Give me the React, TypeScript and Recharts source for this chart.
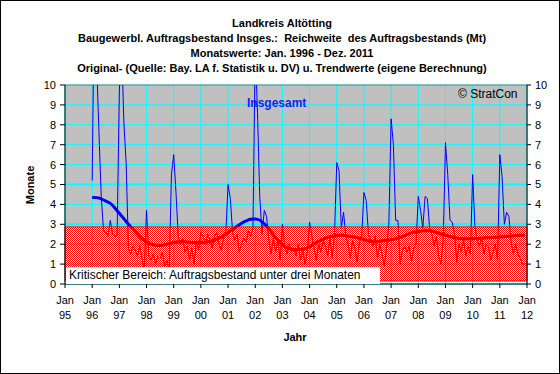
import React from 'react';
import { LineChart, Line, XAxis, YAxis, CartesianGrid, ReferenceArea, ReferenceLine } from 'recharts';

// Monthly values Jan 1996 - Dec 2011 (Reichweite des Auftragsbestands, Monate)
const originalValues: number[] = [
  // 1996
  5.2, 15, 11, 7.6, 4.4, 2.7, 2.6, 2.4, 3.2, 2.5, 2.4, 2.4,
  // 1997
  9.7, 12, 8.1, 6.1, 1.8, 1.5, 1.9, 1.7, 1.4, 1.9, 1.3, 0.7,
  // 1998
  3.7, 1.4, 1.2, 1.5, 1.0, 1.4, 1.3, 1.6, 0.9, 1.2, 0.6, 5.5,
  // 1999
  6.5, 4.6, 2.4, 2.0, 2.3, 1.6, 1.9, 1.2, 1.8, 1.0, 2.2, 1.7,
  // 2000
  2.6, 2.4, 2.0, 2.5, 2.2, 1.8, 2.4, 2.6, 2.0, 1.7, 2.3, 2.5,
  // 2001
  5.0, 4.3, 2.6, 2.2, 2.5, 1.6, 2.0, 2.3, 2.1, 2.7, 2.4, 2.8,
  // 2002
  12, 8.6, 4.4, 2.5, 3.7, 3.4, 2.2, 1.5, 2.3, 1.6, 2.2, 1.2,
  // 2003
  3.0, 1.9, 1.5, 2.0, 1.6, 1.8, 1.4, 2.0, 1.2, 1.7, 1.0, 1.6,
  // 2004
  3.1, 2.4, 1.8, 1.2, 2.0, 1.6, 2.2, 1.9, 1.4, 2.3, 1.3, 2.5,
  // 2005
  6.1, 5.7, 2.8, 3.6, 2.4, 2.0, 1.3, 2.2, 1.8, 1.1, 2.1, 2.4,
  // 2006
  4.6, 4.2, 2.5, 2.2, 1.9, 2.4, 1.3, 2.0, 1.5, 0.9, 1.8, 3.0,
  // 2007
  8.3, 7.0, 3.2, 3.2, 1.0, 1.7, 1.9, 1.6, 1.9, 1.1, 1.8, 2.0,
  // 2008
  4.4, 3.7, 2.8, 4.4, 4.3, 2.8, 2.5, 1.9, 2.4, 1.4, 1.0, 2.2,
  // 2009
  7.1, 5.5, 3.2, 3.1, 2.5, 1.1, 2.0, 1.6, 2.2, 1.4, 1.9, 1.5,
  // 2010
  5.5, 2.9, 2.2, 1.9, 2.3, 1.5, 2.0, 1.9, 1.2, 1.6, 2.0, 1.2,
  // 2011
  6.5, 5.4, 3.0, 3.6, 3.4, 2.1, 1.5, 2.0, 1.5, 1.3, 1.0, 1.0,
];

const trendValues: number[] = [
  // 1996
  4.35, 4.35, 4.34, 4.32, 4.28, 4.22, 4.17, 4.12, 4.05, 3.95, 3.82, 3.68,
  // 1997
  3.55, 3.42, 3.28, 3.14, 3.0, 2.87, 2.75, 2.62, 2.5, 2.38, 2.27, 2.17,
  // 1998
  2.1, 2.05, 2.0, 1.97, 1.95, 1.94, 1.94, 1.95, 1.97, 2.0, 2.03, 2.06,
  // 1999
  2.08, 2.1, 2.11, 2.12, 2.12, 2.12, 2.11, 2.1, 2.09, 2.08, 2.08, 2.08,
  // 2000
  2.08, 2.09, 2.1, 2.12, 2.14, 2.17, 2.2, 2.25, 2.3, 2.36, 2.43, 2.5,
  // 2001
  2.58, 2.66, 2.74, 2.82, 2.9, 2.98, 3.05, 3.12, 3.17, 3.22, 3.25, 3.27,
  // 2002
  3.27, 3.25, 3.2, 3.12, 3.02, 2.9, 2.76, 2.62, 2.48, 2.34, 2.2, 2.07,
  // 2003
  1.97, 1.88, 1.82, 1.78, 1.75, 1.74, 1.73, 1.73, 1.74, 1.76, 1.78, 1.82,
  // 2004
  1.88, 1.95, 2.02, 2.08, 2.14, 2.2, 2.25, 2.3, 2.34, 2.37, 2.4, 2.42,
  // 2005
  2.44, 2.45, 2.45, 2.44, 2.43, 2.41, 2.39, 2.37, 2.35, 2.33, 2.3, 2.27,
  // 2006
  2.23, 2.19, 2.16, 2.13, 2.12, 2.12, 2.13, 2.15, 2.17, 2.19, 2.2, 2.21,
  // 2007
  2.22, 2.24, 2.27, 2.3, 2.34, 2.38, 2.43, 2.48, 2.53, 2.57, 2.6, 2.62,
  // 2008
  2.63, 2.65, 2.67, 2.68, 2.68, 2.67, 2.65, 2.62, 2.59, 2.55, 2.51, 2.48,
  // 2009
  2.45, 2.42, 2.39, 2.36, 2.33, 2.31, 2.29, 2.28, 2.27, 2.27, 2.27, 2.28,
  // 2010
  2.28, 2.29, 2.29, 2.3, 2.3, 2.31, 2.32, 2.32, 2.33, 2.34, 2.35, 2.35,
  // 2011
  2.36, 2.37, 2.38, 2.39, 2.4, 2.41, 2.42, 2.43, 2.44, 2.45, 2.45, 2.46,
];

const firstYear = 1996;
const yearTicks: number[] = [1995, 1996, 1997, 1998, 1999, 2000, 2001, 2002, 2003, 2004, 2005, 2006, 2007, 2008, 2009, 2010, 2011, 2012];
const yTicks: number[] = [0, 1, 2, 3, 4, 5, 6, 7, 8, 9, 10];
const criticalLevel = 2.87;

const titleLines: string[] = [
  'Landkreis Altötting',
  'Baugewerbl. Auftragsbestand Insges.:  Reichweite  des Auftragsbestands (Mt)',
  'Monatswerte: Jan. 1996 - Dez. 2011',
  'Original- (Quelle: Bay. LA f. Statistik u. DV) u. Trendwerte (eigene Berechnung)',
];

const data = originalValues.map((v, i) => ({
  t: firstYear + i / 12,
  original: v,
  trend: trendValues[i],
}));

const FONT = '"Liberation Sans", Arial, sans-serif';

const YearTick = (props: any) => {
  const { x, y, payload } = props;
  const yy = String(payload.value).slice(2);
  return (
    <g>
      <text x={x} y={y + 14} textAnchor="middle" fontSize={11} fill="#000" fontFamily={FONT}>Jan</text>
      <text x={x} y={y + 29} textAnchor="middle" fontSize={11} fill="#000" fontFamily={FONT}>{yy}</text>
    </g>
  );
};

export default function App() {
  return (
    <div style={{ position: 'absolute', left: 0, top: 0, width: 560, height: 374, background: '#fff', fontFamily: FONT }}>
      <svg width={0} height={0} style={{ position: 'absolute' }}>
        <defs>
          <pattern id="checker" patternUnits="userSpaceOnUse" width={2} height={2}>
            <rect x={0} y={0} width={1} height={1} fill="#FF0000" />
            <rect x={1} y={1} width={1} height={1} fill="#FF0000" />
          </pattern>
        </defs>
      </svg>
      <LineChart width={560} height={374} data={data} margin={{ top: 85, right: 5, bottom: 50, left: 5 }}>
        <ReferenceArea yAxisId="left" x1={1995} x2={2012} y1={criticalLevel} y2={10} fill="#C0C0C0" fillOpacity={1} stroke="none" zIndex={-200} />
        <ReferenceArea yAxisId="left" x1={1995} x2={2012} y1={0} y2={criticalLevel} fill="#FFFFFF" fillOpacity={1} stroke="none" zIndex={-200} />
        <CartesianGrid yAxisId="left" stroke="#00FFFF" strokeWidth={1} />
        <ReferenceLine yAxisId="left" y={3} stroke="#00FFFF" strokeWidth={2} zIndex={-90} />
        <ReferenceLine yAxisId="left" y={5} stroke="#00FFFF" strokeWidth={2} zIndex={-90} />
        <ReferenceLine yAxisId="left" y={10} stroke="#808080" strokeWidth={1} zIndex={-90} />
        <XAxis
          dataKey="t"
          type="number"
          domain={[1995, 2012]}
          ticks={yearTicks}
          interval={0}
          allowDataOverflow
          tick={<YearTick />}
          tickSize={4}
          tickMargin={2}
          height={40}
          stroke="#000"
          tickLine={{ stroke: '#000' }}
          axisLine={{ stroke: '#000' }}
        />
        <YAxis
          yAxisId="left"
          domain={[0, 10]}
          ticks={yTicks}
          interval={0}
          allowDataOverflow
          width={60}
          tickSize={5}
          tickMargin={4}
          tick={{ fontSize: 11, fill: '#000', fontFamily: FONT }}
          axisLine={{ stroke: '#000' }}
          tickLine={{ stroke: '#000' }}
        />
        <YAxis
          yAxisId="right"
          orientation="right"
          domain={[0, 10]}
          ticks={yTicks}
          interval={0}
          allowDataOverflow
          width={28}
          tickSize={4}
          tickMargin={4}
          tick={{ fontSize: 11, fill: '#000', fontFamily: FONT }}
          axisLine={{ stroke: '#000' }}
          tickLine={{ stroke: '#000' }}
        />
        <Line yAxisId="left" type="linear" dataKey="original" stroke="#0000FF" strokeWidth={1} dot={false} isAnimationActive={false} />
        <Line yAxisId="left" type="monotone" dataKey="trend" stroke="#0000FF" strokeWidth={3} dot={false} isAnimationActive={false} />
        <ReferenceArea yAxisId="left" x1={1995} x2={2012} y1={0.15} y2={criticalLevel} fill="url(#checker)" fillOpacity={1} stroke="#FF0000" strokeWidth={1} zIndex={450} />
      </LineChart>

      {titleLines.map((line, i) => (
        <div key={i} style={{ position: 'absolute', left: 0, width: 564, top: 17 + i * 15, textAlign: 'center', fontSize: 11, fontWeight: 'bold', lineHeight: '13px', color: '#000', whiteSpace: 'pre' }}>
          {line}
        </div>
      ))}
      <div style={{ position: 'absolute', left: 247, top: 96, fontSize: 12, fontWeight: 'bold', color: '#1a1aff', lineHeight: '14px' }}>Insgesamt</div>
      <div style={{ position: 'absolute', left: 458, top: 87, fontSize: 12, color: '#000', lineHeight: '14px' }}>© StratCon</div>
      <div style={{ position: 'absolute', left: 66, top: 267, width: 314, height: 17, background: '#fff', fontSize: 12, color: '#000', lineHeight: '17px', paddingLeft: 3, boxSizing: 'border-box', whiteSpace: 'pre' }}>
        Kritischer Bereich: Auftragsbestand unter drei Monaten
      </div>
      <div style={{ position: 'absolute', left: 0, top: 178, width: 60, textAlign: 'center', fontSize: 11, fontWeight: 'bold', lineHeight: '14px', transform: 'rotate(-90deg)' }}>Monate</div>
      <div style={{ position: 'absolute', left: 275, top: 330, width: 40, textAlign: 'center', fontSize: 11, fontWeight: 'bold', lineHeight: '14px' }}>Jahr</div>
      <div style={{ position: 'absolute', left: 0, top: 0, width: 560, height: 374, border: '1px solid #000', boxSizing: 'border-box', pointerEvents: 'none' }} />
    </div>
  );
}
